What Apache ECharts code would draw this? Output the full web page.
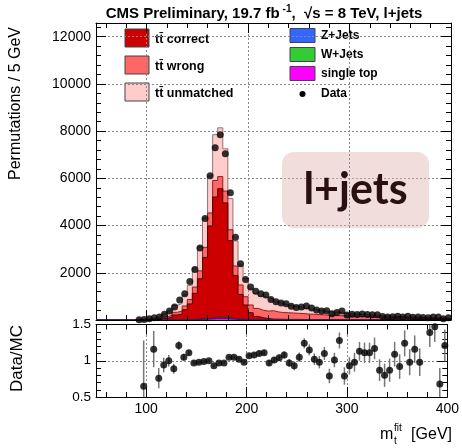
<!DOCTYPE html>
<html><head><meta charset="utf-8">
<script src="https://cdn.jsdelivr.net/npm/echarts@6/dist/echarts.min.js"></script>
<style>html,body{margin:0;padding:0;background:#fff}#c{width:462px;height:448px}</style>
</head><body><div id="c"></div>
<script>
// ---- data (bins of 5 GeV, lower edges) ----
const binEdges = [50,55,60,65,70,75,80,85,90,95,100,105,110,115,120,125,130,135,140,145,150,155,160,165,170,175,180,185,190,195,200,205,210,215,220,225,230,235,240,245,250,255,260,265,270,275,280,285,290,295,300,305,310,315,320,325,330,335,340,345,350,355,360,365,370,375,380,385,390,395];
const binWidth = 5;
const ttCorrect = [0,0,0,0,0,0,0,0,2,7,14,21,41,68,115,205,250,420,660,1100,1700,2590,3900,5100,5450,4860,3290,1840,1050,610,290,135,80,48,27,23,20,18,16,15,13,12,11,10,9,8,7,6,6,5,5,4,4,4,3,3,3,3,2,2,2,2,2,2,2,1,1,1,1,1];
const ttWrong = [0,0,0,0,0,0,0,0,3,8,14,21,41,62,77,112,120,160,190,265,340,430,550,700,510,500,460,400,400,350,330,340,320,315,356,310,285,280,270,260,250,235,225,215,205,195,185,178,170,162,155,148,140,133,126,120,113,107,101,95,90,85,80,75,70,66,62,58,55,52];
const ttUnmatched = [0,0,0,0,0,0,0,0,5,15,26,42,81,127,188,294,320,466,600,804,1017,1240,1565,1940,2067,1789,1319,1063,847,765,673,634,596,578,495,426,375,333,305,281,249,226,202,185,166,152,138,126,116,105,95,87,79,72,66,61,56,51,48,44,40,37,35,32,30,29,27,25,23,21];
const singleTop = [0,0,0,0,0,0,0,0,0,0,1,1,1,2,3,5,6,8,12,18,25,35,49,63,65,58,41,27,19,14,10,9,8,8,7,6,6,5,5,5,4,4,4,3,3,3,3,3,2,2,2,2,2,2,2,1,1,1,1,1,1,1,1,1,1,1,1,1,1,1];
const wJets = [0,0,0,0,0,0,0,0,0,0,0,0,1,1,2,3,3,5,7,11,15,21,30,39,40,36,25,17,12,9,6,6,5,5,4,4,3,3,3,3,3,2,2,2,2,2,2,2,1,1,1,1,1,1,1,1,1,1,1,1,1,1,0,0,0,0,0,0,0,0];
const zJets = [0,0,0,0,0,0,0,0,0,0,0,0,0,0,0,1,1,1,1,2,3,4,6,8,8,7,5,3,2,2,1,1,1,1,1,1,1,1,1,1,1,1,1,0,0,0,0,0,0,0,0,0,0,0,0,0,0,0,0,0,0,0,0,0,0,0,0,0,0,0];
const dataCounts = [null,null,null,null,null,null,null,null,15,20,55,100,125,245,385,555,845,1110,1630,2140,3050,4300,6110,7300,7850,7040,5390,3510,2380,1716,1400,1215,1110,1060,865,775,715,690,582,525,546,595,512,423,377,396,265,318,378,217,240,237,255,235,220,218,151,130,133,156,123,156,116,128,101,92,126,125,54,91];
const ratio = [null,null,null,null,null,null,null,null,null,0.65,null,1.16,0.76,0.94,1.0,0.89,1.21,1.05,1.11,0.97,0.98,0.99,1.0,0.93,0.97,0.97,1.05,1.05,1.02,0.98,1.07,1.08,1.10,1.11,0.97,1.01,1.04,1.08,0.97,0.93,1.05,1.24,1.15,1.02,0.98,1.10,0.79,1.01,1.28,0.79,0.93,0.98,1.13,1.11,1.11,1.17,0.87,0.80,0.87,1.09,0.92,1.24,0.98,1.16,0.98,null,1.39,1.47,0.68,1.21];
const ratioErr = [null,null,null,null,null,null,null,null,null,0.63,null,0.25,0.14,0.10,0.08,0.07,0.06,0.045,0.035,0.03,0.025,0.02,0.02,0.02,0.02,0.02,0.02,0.02,0.025,0.025,0.03,0.03,0.035,0.035,0.04,0.04,0.045,0.05,0.055,0.06,0.065,0.07,0.075,0.08,0.085,0.09,0.10,0.10,0.11,0.12,0.12,0.13,0.13,0.14,0.14,0.15,0.15,0.16,0.16,0.17,0.17,0.18,0.18,0.19,0.19,null,0.20,0.21,0.22,0.22];
const mainYTicks = [0, 12580, 2000];
const ratioYTicks = [0.5, 1.5, 0.5];
const xMajor = [100,200,300,400];
const xMinor = [60,80,120,140,160,180,220,240,260,280,320,340,360,380];
const xGrid = [100,200,300];

const FONT = '"Liberation Sans", Arial, Helvetica, sans-serif';
const measure = (() => { const c = document.createElement('canvas').getContext('2d'); return (s, f) => { c.font = f; return c.measureText(s).width; }; })();

// stacked levels (bottom -> top)
const stackOrder = [singleTop, wJets, zJets, ttCorrect, ttWrong, ttUnmatched];
const levels = [];
stackOrder.reduce((acc, arr) => { const s = acc.map((v, i) => v + arr[i]); levels.push(s); return s; }, binEdges.map(() => 0));

function stepData(arr) {
  const out = binEdges.map((e, i) => [e, arr[i]]);
  out.push([binEdges[binEdges.length - 1] + binWidth, arr[arr.length - 1]]);
  return out;
}
function centers(arr) {
  return binEdges.map((e, i) => [e + binWidth / 2, arr[i]]).filter(p => p[1] !== null);
}

const chart = echarts.init(document.getElementById('c'), null, {renderer: 'canvas'});

const G0 = {left: 96, top: 23, width: 355, height: 297};
const G1 = {left: 96, top: 324.5, width: 355, height: 72.5};

function xAx(grid, pos, vals, len, showLine, labels) {
  return {
    type: 'value', gridIndex: grid, position: pos, min: 50, max: 400,
    axisLine: {show: showLine, onZero: false, lineStyle: {color: '#000', width: 1}},
    axisTick: {show: true, inside: true, length: len, customValues: vals, lineStyle: {color: '#000', width: 1}},
    axisLabel: labels ? {show: true, customValues: xMajor, fontFamily: FONT, fontSize: 14, color: '#000', margin: 5} : {show: false},
    splitLine: {show: false}, z: 10
  };
}
function yAx(grid, pos, t, labels, split, fs, showMin) {
  return {
    type: 'value', gridIndex: grid, position: pos, min: t[0], max: t[1], interval: t[2],
    axisLine: {show: true, onZero: false, lineStyle: {color: '#000', width: 1}},
    axisTick: {show: true, inside: true, length: 10, lineStyle: {color: '#000', width: 1}},
    minorTick: {show: true, splitNumber: 5, length: 5, lineStyle: {color: '#000', width: 1}},
    axisLabel: labels ? {show: true, fontFamily: FONT, fontSize: fs, color: '#000', margin: 5,
      showMaxLabel: t[1] % t[2] === 0, showMinLabel: showMin, formatter: v => String(v)} : {show: false},
    splitLine: split ? {show: true, lineStyle: {color: '#888', type: [2, 2], width: 1}} : {show: false}
  };
}

const gridMark = {
  silent: true, symbol: 'none', label: {show: false}, animation: false,
  lineStyle: {color: '#888', type: [2, 2], width: 1},
  data: xGrid.map(v => ({xAxis: v}))
};

function hist(name, arr, fill, line) {
  return {
    name, type: 'line', xAxisIndex: 0, yAxisIndex: 0, step: 'end', z: 3,
    symbol: 'none', data: stepData(arr), animation: false,
    lineStyle: {color: line, width: 1}, areaStyle: {color: fill, opacity: 1, origin: 'start'}
  };
}

// ---- graphics: title, axis titles, legend, tag ----
const g = [];
const tf = 'bold 15px ' + FONT, sf = 'bold 10px ' + FONT;
const t1 = 'CMS Preliminary, 19.7 fb', t2 = '-1', t3 = ',  \u221As = 8 TeV, l+jets';
const w1 = measure(t1, tf), w2 = measure(t2, sf), w3 = measure(t3, tf);
let tx = 264 - (w1 + w2 + w3 + 3) / 2;
g.push({type: 'text', x: tx, y: 14, style: {text: t1, font: tf, fill: '#000', align: 'left', verticalAlign: 'middle'}});
g.push({type: 'text', x: tx + w1 + 3, y: 9, style: {text: t2, font: sf, fill: '#000', align: 'left', verticalAlign: 'middle'}});
g.push({type: 'text', x: tx + w1 + 3 + w2, y: 14, style: {text: t3, font: tf, fill: '#000', align: 'left', verticalAlign: 'middle'}});

g.push({type: 'text', x: 16, y: 27, rotation: Math.PI / 2, style: {text: 'Permutations / 5 GeV', font: '16px ' + FONT, fill: '#000', align: 'right', verticalAlign: 'middle'}});
g.push({type: 'text', x: 17, y: 325, rotation: Math.PI / 2, style: {text: 'Data/MC', font: '17px ' + FONT, fill: '#000', align: 'right', verticalAlign: 'middle'}});

g.push({type: 'text', x: 452, y: 435, style: {text: '[GeV]', font: '16px ' + FONT, fill: '#000', align: 'right', verticalAlign: 'middle'}});
g.push({type: 'text', x: 380, y: 435, style: {text: 'm', font: '16px ' + FONT, fill: '#000', align: 'left', verticalAlign: 'middle'}});
g.push({type: 'text', x: 394, y: 428, style: {text: 'fit', font: '10px ' + FONT, fill: '#000', align: 'left', verticalAlign: 'middle'}});
g.push({type: 'text', x: 394, y: 441, style: {text: 't', font: '10px ' + FONT, fill: '#000', align: 'left', verticalAlign: 'middle'}});

const lf = 'bold 12.5px ' + FONT;
const legL = [
  ['tt\u0304 correct', '#cc0000', 29, 40],
  ['tt\u0304 wrong', '#ff6666', 56, 67],
  ['tt\u0304 unmatched', '#ffcccc', 83, 94]
];
legL.forEach(([txt, col, by, ty]) => {
  g.push({type: 'rect', shape: {x: 125, y: by, width: 24, height: 18}, style: {fill: col, stroke: '#444', lineWidth: 1}});
  g.push({type: 'text', x: 155, y: ty, style: {text: txt, font: lf, fill: '#000', align: 'left', verticalAlign: 'middle'}});
});
const legR = [
  ['Z+Jets', '#3366ff', 28.5, 36],
  ['W+Jets', '#33cc33', 47.5, 55],
  ['single top', '#ff00ff', 66.5, 74]
];
legR.forEach(([txt, col, by, ty]) => {
  g.push({type: 'rect', shape: {x: 290, y: by, width: 25, height: 14}, style: {fill: col, stroke: '#444', lineWidth: 1}});
  g.push({type: 'text', x: 321, y: ty, style: {text: txt, font: 'bold 12px ' + FONT, fill: '#000', align: 'left', verticalAlign: 'middle'}});
});
g.push({type: 'circle', shape: {cx: 302.5, cy: 94, r: 3}, style: {fill: '#000'}});
g.push({type: 'text', x: 321, y: 94, style: {text: 'Data', font: 'bold 12px ' + FONT, fill: '#000', align: 'left', verticalAlign: 'middle'}});

g.push({type: 'rect', shape: {x: 282, y: 152, width: 147, height: 76, r: 12}, style: {fill: 'rgba(226,180,180,0.45)'}, z: 1});
g.push({type: 'text', x: 355.5, y: 190, z: 2, style: {text: 'l+jets', font: 'bold 43px Lato, "Open Sans", sans-serif', fill: '#2a1010', align: 'center', verticalAlign: 'middle'}});

const option = {
  animation: false,
  backgroundColor: '#fff',
  grid: [G0, G1],
  xAxis: [
    xAx(0, 'bottom', xMajor, 10, true, false),
    xAx(0, 'bottom', xMinor, 5, false, false),
    xAx(0, 'top', xMajor, 10, true, false),
    xAx(0, 'top', xMinor, 5, false, false),
    xAx(1, 'bottom', xMajor, 10, true, true),
    xAx(1, 'bottom', xMinor, 5, false, false),
    xAx(1, 'top', xMajor, 10, true, false),
    xAx(1, 'top', xMinor, 5, false, false)
  ],
  yAxis: [
    yAx(0, 'left', mainYTicks, true, true, 14, false),
    yAx(0, 'right', mainYTicks, false, false, 14, false),
    yAx(1, 'left', ratioYTicks, true, true, 13.5, true),
    yAx(1, 'right', ratioYTicks, false, false, 13.5, true)
  ],
  series: [
    {
      name: 'xgrid', type: 'line', xAxisIndex: 0, yAxisIndex: 0, z: 1, data: [],
      symbol: 'none', markLine: gridMark
    },
    hist('tt unmatched', levels[5], '#ffcccc', '#997070'),
    hist('tt wrong', levels[4], '#ff6666', '#882222'),
    hist('tt correct', levels[3], '#cc0000', '#550000'),
    hist('Z+Jets', levels[2], '#3366ff', '#112266'),
    hist('W+Jets', levels[1], '#33cc33', '#115511'),
    hist('single top', levels[0], '#ff00ff', '#660066'),
    {
      name: 'Data', type: 'scatter', xAxisIndex: 0, yAxisIndex: 0, data: centers(dataCounts),
      symbol: 'circle', symbolSize: 7, itemStyle: {color: '#000'}, z: 5
    },
    {
      name: 'ratioErr', type: 'custom', xAxisIndex: 4, yAxisIndex: 2, z: 4,
      data: binEdges.map((e, i) => [e + binWidth / 2, ratio[i], ratioErr[i]]).filter(p => p[1] !== null),
      renderItem: (params, api) => {
        const x = api.value(0), r = api.value(1), e = api.value(2);
        const lo = Math.max(r - e, 0.5), hi = Math.min(r + e, 1.5);
        const p1 = api.coord([x, lo]), p2 = api.coord([x, hi]);
        return {type: 'line', shape: {x1: p1[0], y1: p1[1], x2: p2[0], y2: p2[1]}, style: {stroke: '#777', lineWidth: 1.5}};
      }
    },
    {
      name: 'Data/MC', type: 'scatter', xAxisIndex: 4, yAxisIndex: 2, z: 5,
      data: centers(ratio), symbol: 'circle', symbolSize: 7, itemStyle: {color: '#000'},
      markLine: gridMark
    }
  ],
  graphic: g
};
chart.setOption(option);
</script></body></html>
